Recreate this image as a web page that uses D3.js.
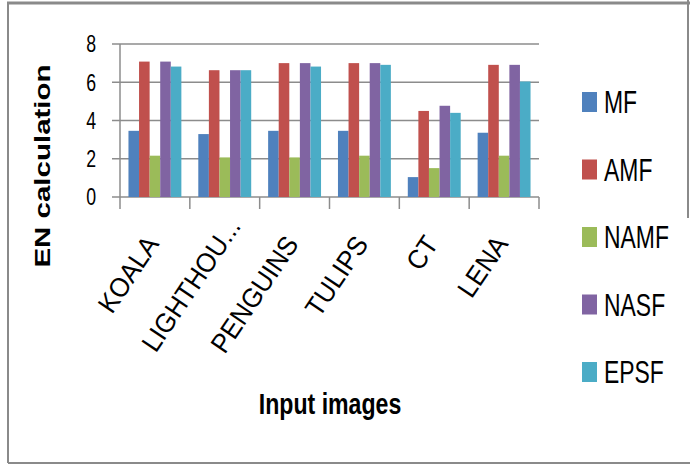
<!DOCTYPE html>
<html><head><meta charset="utf-8">
<script src="https://cdn.jsdelivr.net/npm/d3@7"></script>
<style>
html,body{margin:0;padding:0;background:#fff;}
svg{display:block;}
</style></head>
<body>
<script>
const categories = ["KOALA","LIGHTHOU...","PENGUINS","TULIPS","CT","LENA"];
const seriesNames = ["MF","AMF","NAMF","NASF","EPSF"];
const MF   = [3.46, 3.29, 3.46, 3.46, 1.04, 3.36];
const AMF  = [7.08, 6.63, 7.00, 7.00, 4.50, 6.91];
const NAMF = [2.16, 2.07, 2.07, 2.16, 1.51, 2.16];
const NASF = [7.08, 6.63, 7.00, 7.00, 4.77, 6.91];
const EPSF = [6.82, 6.63, 6.82, 6.91, 4.40, 6.04];
const seriesValues = [MF, AMF, NAMF, NASF, EPSF];
const colors = ["#4F81BD","#C0504D","#9BBB59","#8064A2","#4BACC6"];
const yTicks = [0,2,4,6,8];
const yTitle = "EN calculation";
const xTitle = "Input images";

const W = 690, H = 469;
const FONT = "'Liberation Sans',Arial,sans-serif";
const SX = 0.77; // horizontal squeeze of the original picture
const svg = d3.select("body").append("svg").attr("width", W).attr("height", H);

// frame
const frame = svg.append("g").attr("stroke", "#8a8a8a").attr("fill", "none");
frame.append("line").attr("x1", 7).attr("x2", 690).attr("y1", 3).attr("y2", 3).attr("stroke-width", 3);
frame.append("line").attr("x1", 8).attr("x2", 8).attr("y1", 3).attr("y2", 463).attr("stroke-width", 2);
frame.append("line").attr("x1", 8).attr("x2", 690).attr("y1", 463).attr("y2", 463).attr("stroke-width", 2);
frame.append("line").attr("x1", 688).attr("x2", 688).attr("y1", 0).attr("y2", 218).attr("stroke-width", 2);

const x0 = d3.scaleBand().domain(categories).range([120, 539]).paddingInner(0).paddingOuter(0);
const x1 = d3.scaleBand().domain(seriesNames).range([0, x0.bandwidth()]).paddingInner(0).paddingOuter(0.8);
const y = d3.scaleLinear().domain([0, 8]).range([197, 44]);

// gridlines
svg.append("g").selectAll("line").data(yTicks).join("line")
  .attr("x1", 112).attr("x2", 539)
  .attr("y1", d => y(d)).attr("y2", d => y(d))
  .attr("stroke", "#8c8c8c").attr("stroke-width", 1.5);

// y axis line
svg.append("line").attr("x1", 120).attr("x2", 120).attr("y1", y(8)).attr("y2", y(0))
  .attr("stroke", "#8c8c8c").attr("stroke-width", 1.5);

// x ticks at category boundaries
const bounds = categories.map(c => x0(c)).concat([x0(categories[categories.length-1]) + x0.bandwidth()]);
svg.append("g").selectAll("line").data(bounds).join("line")
  .attr("x1", d => d).attr("x2", d => d).attr("y1", y(0)).attr("y2", y(0) + 12)
  .attr("stroke", "#8c8c8c").attr("stroke-width", 1.5);

// bars
seriesNames.forEach((s, si) => {
  svg.append("g").selectAll("rect").data(seriesValues[si]).join("rect")
    .attr("x", (d, i) => x0(categories[i]) + x1(s))
    .attr("width", x1.bandwidth())
    .attr("y", d => y(d))
    .attr("height", d => y(0) - y(d))
    .attr("fill", colors[si]);
});

// y tick labels
svg.append("g").selectAll("text").data(yTicks).join("text")
  .attr("transform", d => `translate(96,${y(d)}) scale(${SX},1)`)
  .attr("dy", "0.36em")
  .attr("text-anchor", "end").attr("font-family", FONT).attr("font-size", 23)
  .attr("fill", "#000").text(d => d);

// x category labels (rotated, the truncation dots hang past the anchor)
const catG = svg.append("g");
categories.forEach(c => {
  const main = c.replace(/\.\.\.$/, "");
  const tail = c.length > main.length ? "..." : "";
  const g = catG.append("g")
    .attr("transform", `translate(${x0(c) + x0.bandwidth()/2 + 5},244) rotate(-56) scale(0.95,1)`);
  g.append("text").attr("text-anchor", "end").attr("font-family", FONT)
    .attr("font-size", 27).attr("fill", "#000").text(main);
  if (tail) g.append("text").attr("text-anchor", "start").attr("font-family", FONT)
    .attr("font-size", 27).attr("fill", "#000").text(tail);
});

// axis titles
svg.append("text").attr("transform", `translate(50,166) scale(${SX},1) rotate(-90)`)
  .attr("text-anchor", "middle").attr("font-family", FONT)
  .attr("font-weight", "bold").attr("font-size", 29.5).text(yTitle);
svg.append("text").attr("transform", `translate(330,414) scale(${SX},1)`)
  .attr("text-anchor", "middle").attr("font-family", FONT)
  .attr("font-weight", "bold").attr("font-size", 30).text(xTitle);

// legend
const lg = svg.append("g");
seriesNames.forEach((s, i) => {
  const cy = 102 + i * 67.5;
  lg.append("rect").attr("x", 582).attr("y", cy - 10).attr("width", 15).attr("height", 20).attr("fill", colors[i]);
  lg.append("text").attr("transform", `translate(604,${cy}) scale(0.74,1)`).attr("dy", "0.36em")
    .attr("font-family", FONT).attr("font-size", 31).attr("fill", "#000").text(s);
});
</script>
</body></html>
